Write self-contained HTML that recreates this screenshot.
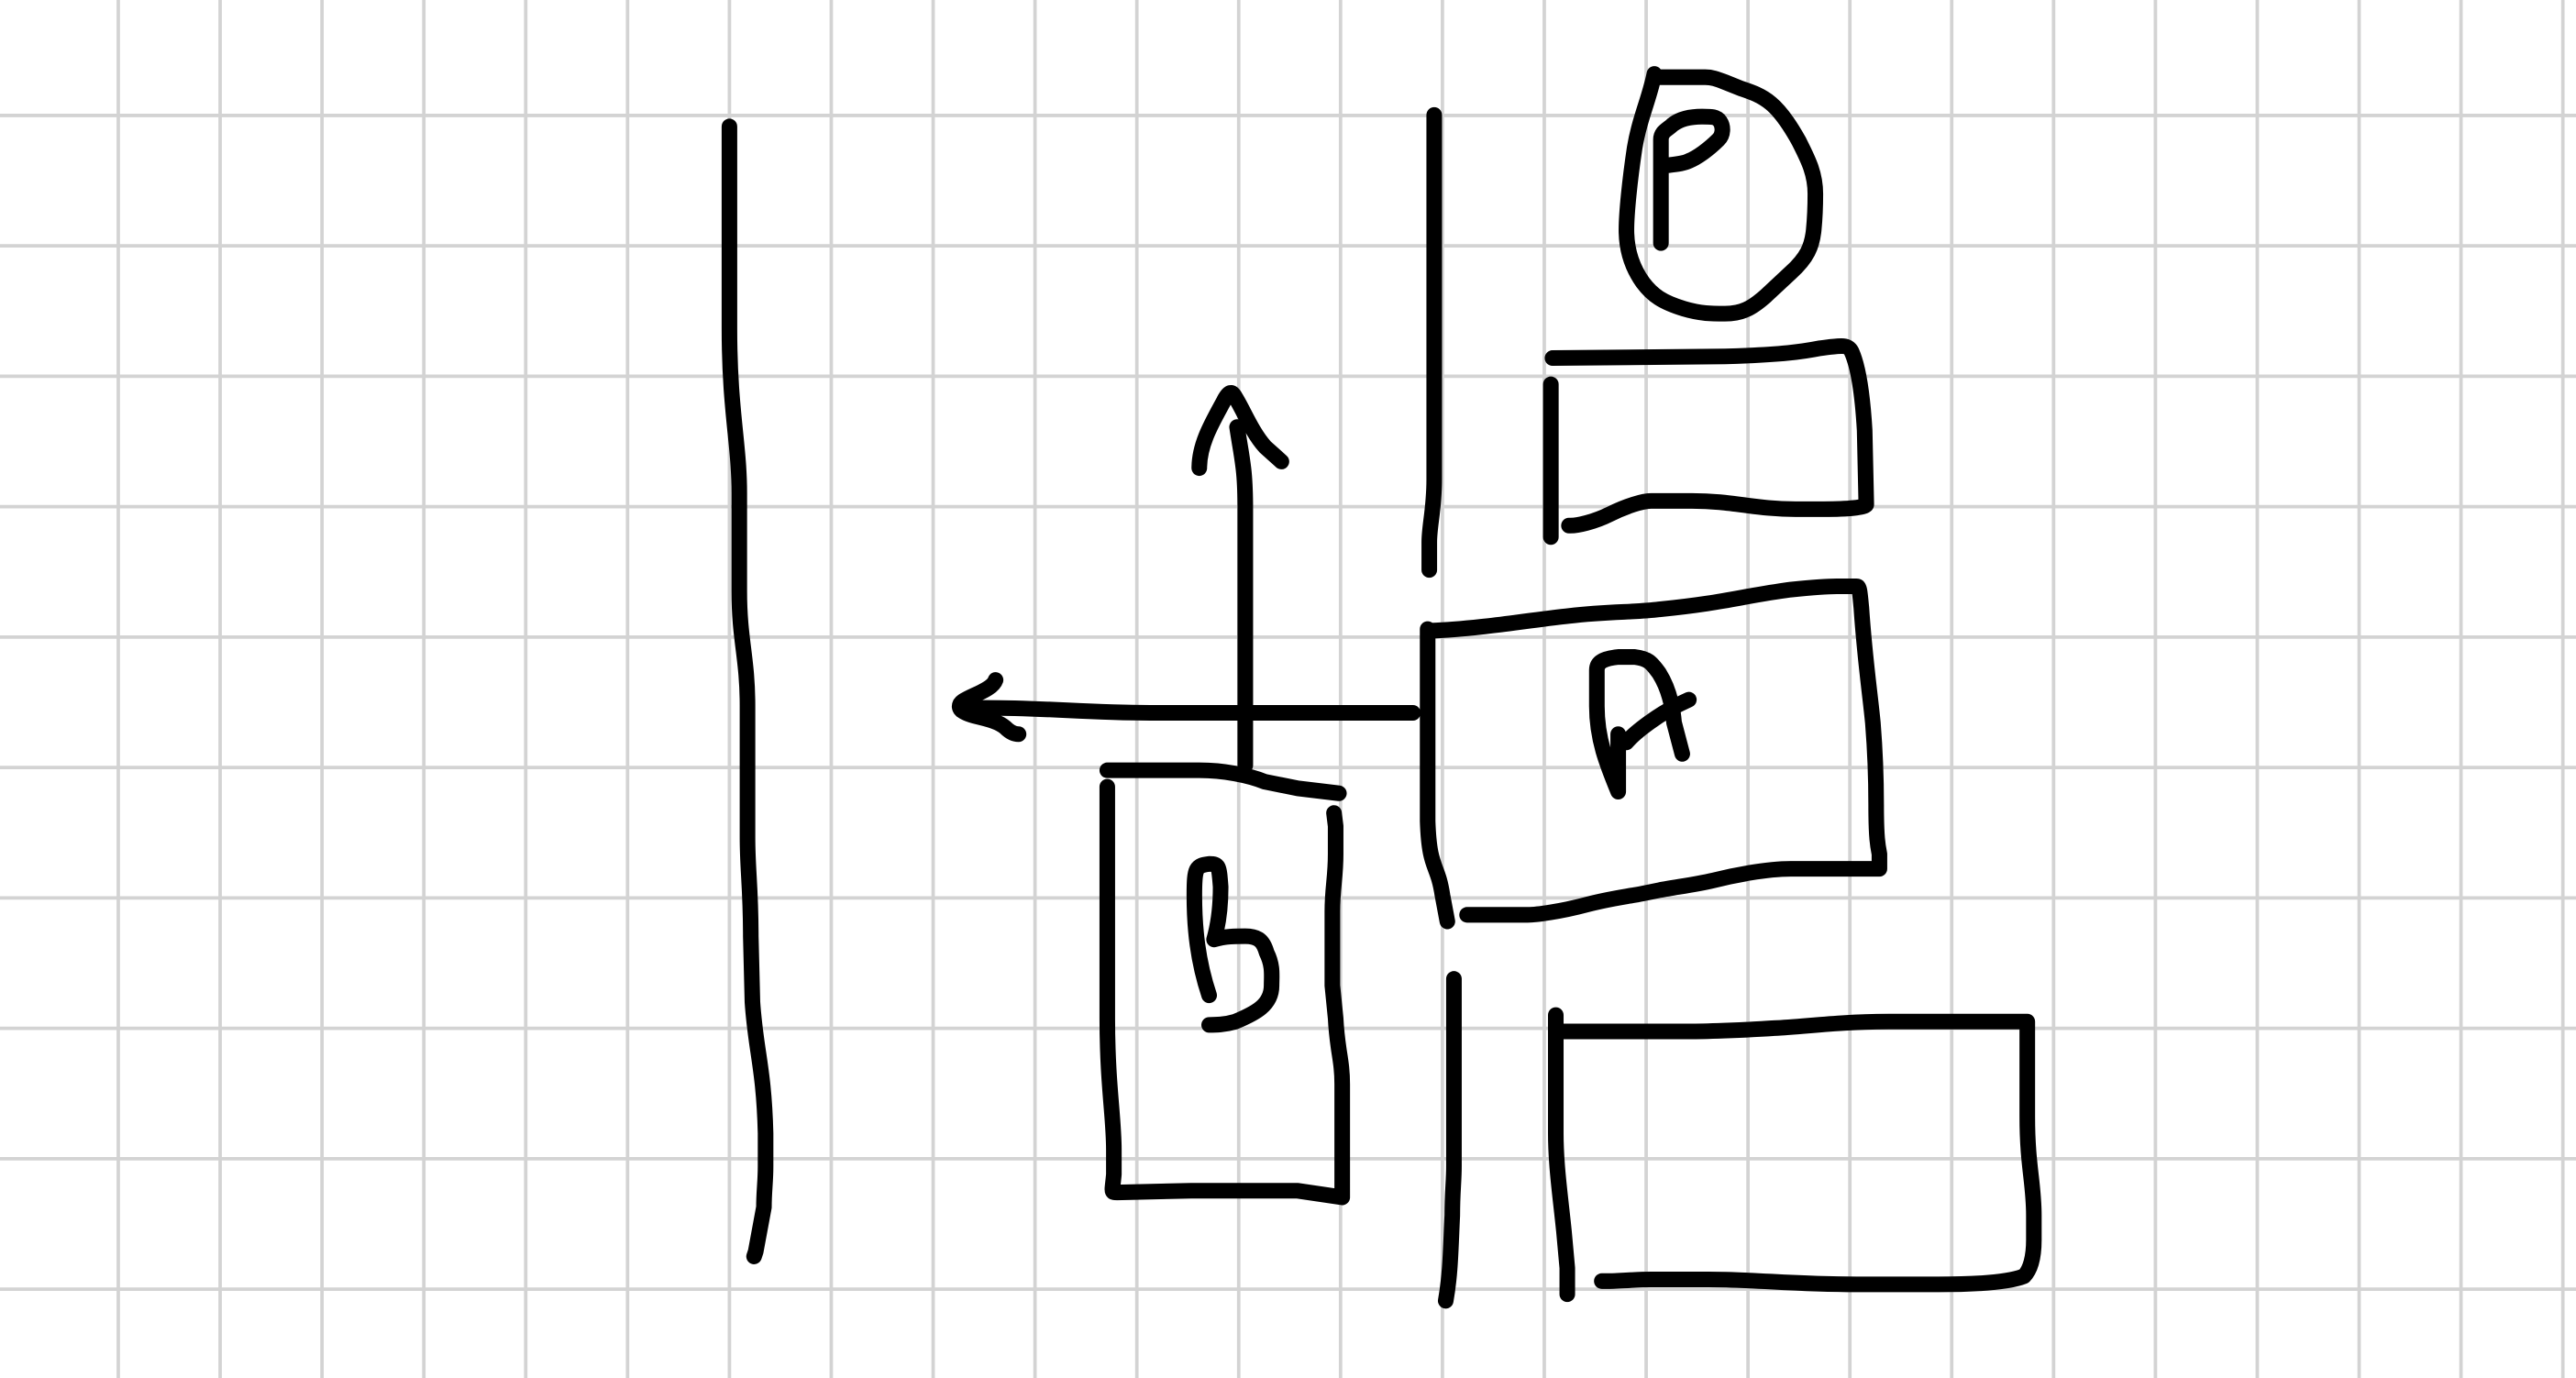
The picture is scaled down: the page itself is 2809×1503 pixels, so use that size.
<!DOCTYPE html>
<html><head><meta charset="utf-8"><style>
html,body{margin:0;padding:0;background:#fff;width:2809px;height:1503px;overflow:hidden}
svg{display:block}
</style></head><body>
<svg id="c" width="2809" height="1503" viewBox="0 0 1568 839" preserveAspectRatio="none" xmlns="http://www.w3.org/2000/svg">
<g id="grid" stroke="#d3d3d3" stroke-width="2.1"></g>
<g fill="none" stroke="#000" stroke-width="9.5" stroke-linecap="round" stroke-linejoin="round">
<path d="M444,77 L444,120 L444,200 C444,250 450,270 450,300 L450,360 C450,390 455,400 455,430 L455,510 C455,530 457,540 457,570 L458,610 C460,640 465,650 466,690 L466,710 C466,720 465,725 465,735 L460,762 L459,765"/>
<path d="M758,466 L758,310 C758,285 756,280 753,260"/>
<path d="M730,285 C730,270 738,257 745,244 C748,238 750,238 752,242 C757,250 762,263 770,272 L780,281"/>
<path d="M860,434 L820,434 L700,434 C660,434 640,431 600,431 L592,431"/>
<path d="M606,414 C604,420 592,423 586,427 C583,429 584,432 586,433 C592,437 605,437 612,443 C615,446 618,447 620,447"/>
<path d="M674,469 L730,469 C745,469 760,472 770,476 L790,480 L815,483"/>
<path d="M674,479 L674,620 C674,660 678,680 678,700 L678,715 C677,726 676,726 680,726 L725,725 L790,725 L817,729 L817,660 C817,645 814,640 813,620 L811,600 L811,555 C811,540 813,535 813,520 L813,503 L812,495"/>
<path d="M736,606 C729,585 727,565 727,545 C727,528 728,527 736,526 C742,526 742,527 743,540 C743,555 741,565 739,572 C746,570 752,570 758,570 C766,570 769,573 771,580 C775,588 774,594 774,600 C774,612 764,617 752,622 C745,624 740,624 736,624"/>
<path d="M873,70 L873,292 C873,310 870,320 870,330 L870,347"/>
<path d="M885,596 L885,710 C885,720 884,725 884,740 C883,760 883,775 880,792"/>
<path d="M1007,45 C1004,60 998,72 995,90 C992,110 990,130 990,140 C990,155 995,165 1000,172 C1006,180 1012,184 1025,188 C1035,191 1042,191 1050,191 C1060,191 1066,188 1075,180 L1090,166 C1100,157 1103,150 1104,140 C1105,130 1105,125 1105,118 C1105,105 1100,96 1095,86 C1090,77 1084,68 1078,63 C1072,58 1066,56 1060,54 L1050,50 C1045,48 1042,47 1038,47 L1010,47"/>
<path d="M1011,148 L1011,85 C1011,80 1015,79 1018,76 C1023,72 1030,71 1036,71 C1042,71 1045,71 1047,74 C1049,77 1049,82 1046,85 C1040,91 1033,96 1028,98 C1024,100 1018,100 1013,101"/>
<path d="M945,218 L1050,217 C1085,216 1098,214 1108,212 C1122,210 1125,210 1127,214 C1132,225 1134,245 1135,262 L1136,307 C1136,309 1125,310 1110,310 L1093,310 C1068,310 1055,305 1030,305 L1005,305 C1000,305 990,308 980,313 C970,318 960,320 956,320 L955,320"/>
<path d="M944,234 L944,327"/>
<path d="M869,383 L869,500 C870,530 875,525 878,545 L881,561"/>
<path d="M871,384 C900,383 935,377 955,375 C980,372 995,373 1010,371 C1050,367 1060,363 1090,359 C1100,358 1110,357 1118,357 L1130,357 C1132,357 1132,360 1133,370 C1135,400 1138,420 1140,440 C1142,465 1142,480 1142,490 C1142,510 1143,515 1144,520 L1144,529 L1090,529 C1075,529 1055,533 1043,536 C1030,539 1020,540 1010,542 L1000,544 C990,546 980,547 965,551 C950,555 935,557 930,557 L893,557"/>
<path d="M985,482 C978,465 972,450 972,430 L972,408 C972,403 976,401 985,400 L995,400 C1003,401 1005,403 1010,410 C1015,418 1018,428 1019,440 L1024,459 M985,447 L985,482 M990,452 C995,446 1010,434 1028,426"/>
<path d="M947,618 L947,690 C947,710 950,730 952,750 L954,772 L954,788"/>
<path d="M950,628 L1030,628 C1040,628 1065,627 1080,626 C1100,625 1120,622 1150,622 L1234,622 L1234,680 C1234,710 1238,720 1238,740 L1238,755 C1238,765 1236,773 1232,777 C1222,781 1200,782 1180,782 L1130,782 C1090,782 1070,779 1040,779 L1005,779 C995,779 985,780 980,780 L975,780"/>
</g>
</svg>
<script>
const gridStepX = 62;
const gridStepY = 79.4;
const g = document.getElementById('grid');
const NS = 'http://www.w3.org/2000/svg';
for (let x = 72; x < 1568; x += gridStepX) {
  const l = document.createElementNS(NS, 'line');
  l.setAttribute('x1', x); l.setAttribute('x2', x); l.setAttribute('y1', 0); l.setAttribute('y2', 839);
  
  
  g.appendChild(l);
}
for (let y = 70.3; y < 839; y += gridStepY) {
  const l = document.createElementNS(NS, 'line');
  l.setAttribute('x1', 0); l.setAttribute('x2', 1568); l.setAttribute('y1', y); l.setAttribute('y2', y);
  
  
  g.appendChild(l);
}
</script>
</body></html>
